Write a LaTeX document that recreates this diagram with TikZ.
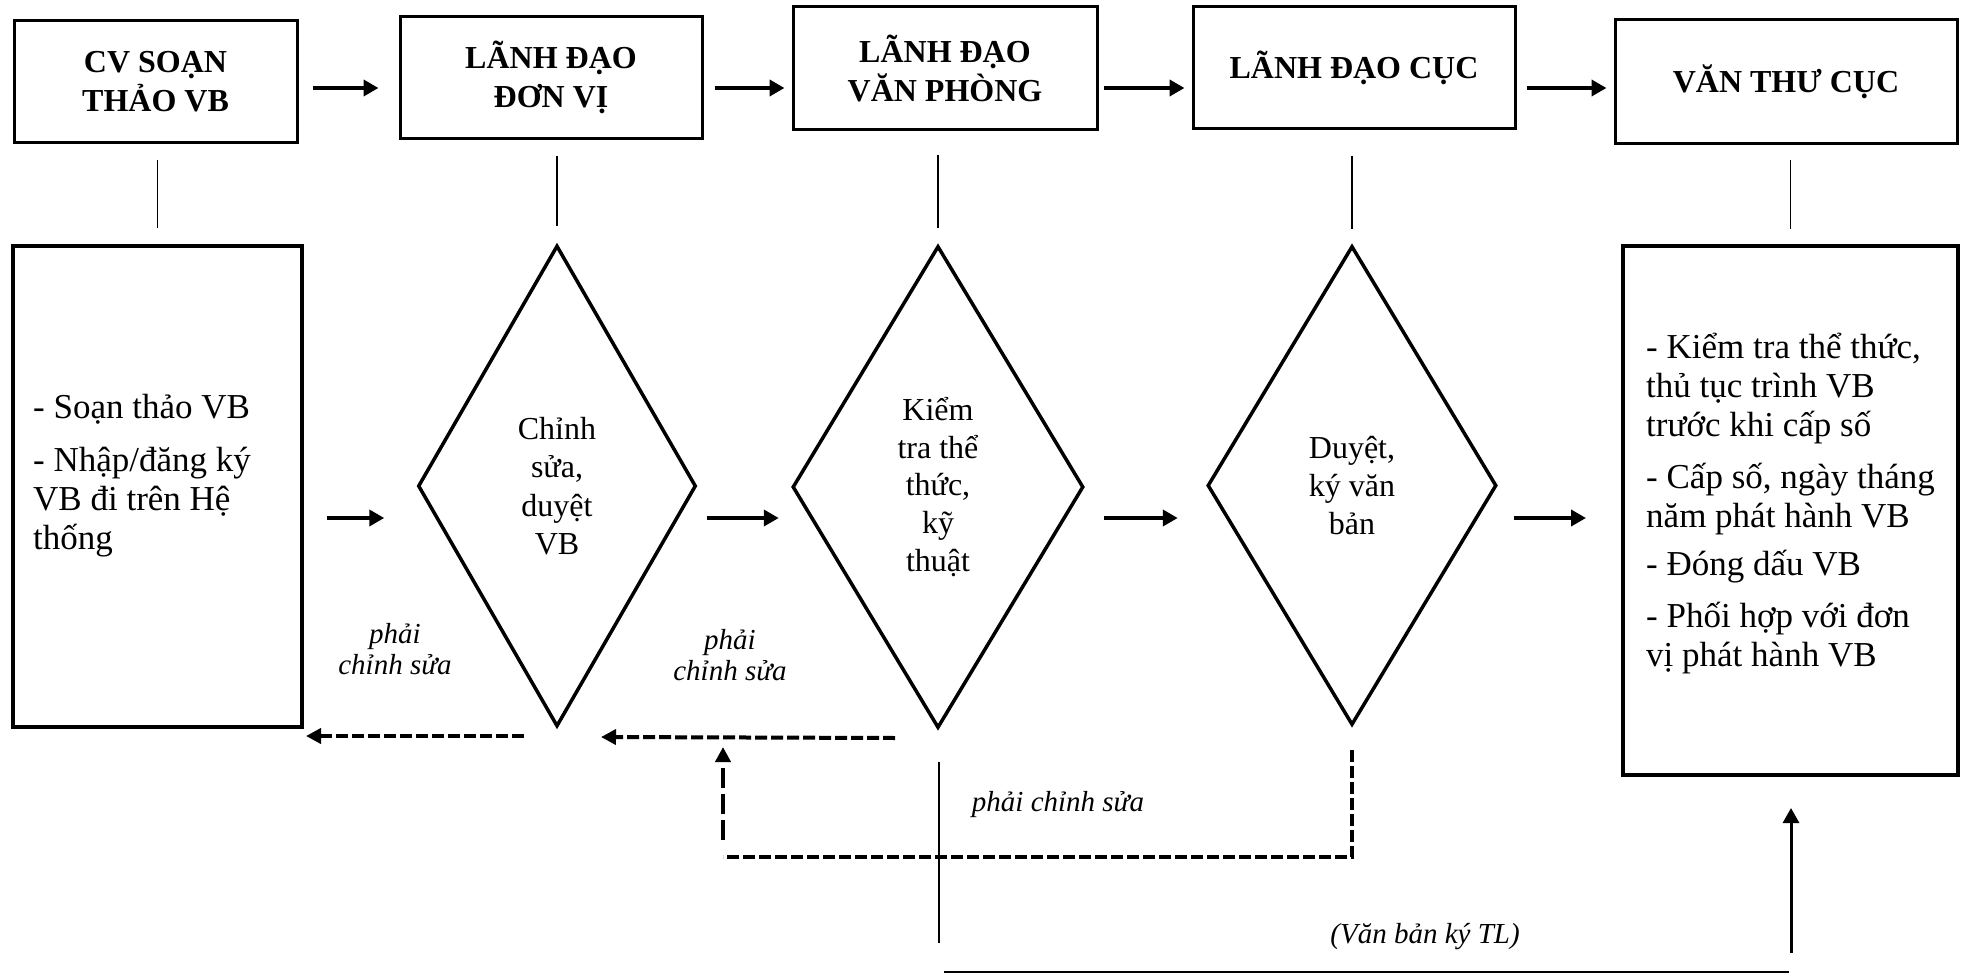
\documentclass[tikz,border=0pt]{standalone}
\usepackage{fontspec}
\setmainfont{Liberation Serif}
\usetikzlibrary{shapes.geometric,arrows.meta,positioning,calc}

\tikzset{
  headbox/.style={draw, line width=3pt, inner sep=0pt,
    font=\fontsize{32}{39}\selectfont\bfseries, align=center},
  stepbox/.style={draw, line width=4pt, inner sep=0pt},
  decision/.style={diamond, draw, line width=3.5pt, inner sep=0pt,
    font=\fontsize{32}{38.5}\selectfont, align=center},
  boxtext/.style={font=\fontsize{35}{39}\selectfont, align=left,
    anchor=west, inner sep=0pt},
  note/.style={font=\fontsize{29}{31}\selectfont\itshape, align=center},
  flow/.style={-{Triangle[length=15pt,width=16pt]}, line width=4pt},
  back/.style={-{Triangle[length=15pt,width=15pt]}, line width=4pt,
    dash pattern=on 12pt off 4pt},
  link/.style={line width=1.5pt},
}

\begin{document}
\begin{tikzpicture}[x=1pt,y=-1pt]
  \useasboundingbox (0,0) rectangle (1968,974);

  % roles
  \node[headbox, minimum width=283, minimum height=121] (T1) at (155.5,81.5) {CV SOẠN\\THẢO VB};
  \node[headbox, minimum width=302, minimum height=121] (T2) at (551,77.5) {LÃNH ĐẠO\\ĐƠN VỊ};
  \node[headbox, minimum width=304, minimum height=122] (T3) at (945,68) {LÃNH ĐẠO\\VĂN PHÒNG};
  \node[headbox, minimum width=322, minimum height=121] (T4) at (1354,67.5) {LÃNH ĐẠO CỤC};
  \node[headbox, minimum width=342, minimum height=123] (T5) at (1786,81.5) {VĂN THƯ CỤC};

  % steps
  \node[stepbox, minimum width=289, minimum height=481] (B1) at (157.5,486.5) {};
  \node[decision, minimum width=278, minimum height=481] (D1) at (557,486) {Chỉnh\\sửa,\\duyệt\\VB};
  \node[decision, minimum width=291, minimum height=482, font=\fontsize{32}{37.7}\selectfont] (D2) at (938,487) {Kiểm\\tra thể\\thức,\\kỹ\\thuật};
  \node[decision, minimum width=289, minimum height=479, font=\fontsize{32}{38}\selectfont] (D3) at (1352,485.5) {Duyệt,\\ký văn\\bản};
  \node[stepbox, minimum width=335, minimum height=529] (B5) at (1790.5,510.5) {};

  \node[boxtext] (B1t) at (33,476) {- Soạn thảo VB\\[14pt]- Nhập/đăng ký\\VB đi trên Hệ\\thống};
  \node[boxtext] (B5t) at (1646,504) {- Kiểm tra thể thức,\\thủ tục trình VB\\trước khi cấp số\\[13pt]- Cấp số, ngày tháng\\năm phát hành VB\\[9pt]- Đóng dấu VB\\[13pt]- Phối hợp với đơn\\vị phát hành VB};

  % labels
  \node[note] (n1) at (395,649) {phải\\chỉnh sửa};
  \node[note] (n2) at (730,655) {phải\\chỉnh sửa};
  \node[note] (n3) at (1058,805) {phải chỉnh sửa};
  \node[note] (n4) at (1425,937) {(Văn bản ký TL)};

  % top row
  \coordinate (hy) at (0,88);
  \draw[flow, shorten <=14pt, shorten >=20pt] (T1.east |- hy) -- (T2.west |- hy);
  \draw[flow, shorten <=11pt, shorten >=7pt] (T2.east |- hy) -- (T3.west |- hy);
  \draw[flow, shorten <=5pt, shorten >=7pt] (T3.east |- hy) -- (T4.west |- hy);
  \draw[flow, shorten <=10pt, shorten >=7pt] (T4.east |- hy) -- (T5.west |- hy);

  % role to step
  \draw[link, shorten <=16pt, shorten >=16pt] (B1.north |- T1.south) -- (B1.north);
  \draw[link, shorten <=16pt, shorten >=18pt] (D1.north |- T2.south) -- (D1.north);
  \draw[link, shorten <=24pt, shorten >=16pt] (D2.north |- T3.south) -- (D2.north);
  \draw[link, shorten <=26pt, shorten >=15pt] (D3.north |- T4.south) -- (D3.north);
  \draw[link, shorten <=15pt, shorten >=15pt] (B5.north |- T5.south) -- (B5.north);

  % main flow
  \coordinate (my) at (0,518);
  \draw[flow, shorten <=23pt, shorten >=32pt] (B1.east |- my) -- (D1.west |- my);
  \draw[flow, shorten <=9pt, shorten >=12pt] (D1.east |- my) -- (D2.west |- my);
  \draw[flow, shorten <=19pt, shorten >=28pt] (D2.east |- my) -- (D3.west |- my);
  \draw[flow, shorten <=16pt, shorten >=35pt] (D3.east |- my) -- (B5.west |- my);

  % send back
  \coordinate (r1a) at (524,736);
  \coordinate (r1b) at (306,736);
  \coordinate (r2a) at (895,738);
  \coordinate (r2b) at (601,737);
  \coordinate (r3a) at (1352,750);
  \coordinate (r3b) at (1352,857);
  \coordinate (r3c) at (723,857);
  \coordinate (r3e) at (723,840);
  \coordinate (r3d) at (723,747);
  \draw[back] (r1a) -- (r1b);
  \draw[back] (r2a) -- (r2b);
  \draw[back, -] (r3a) -- (r3b) -- (r3c);
  \draw[back, dash pattern=on 20pt off 6pt] (r3e) -- (r3d);

  % signed on behalf
  \coordinate (s1a) at (939,762);
  \coordinate (s1b) at (939,943);
  \coordinate (s2a) at (944,972);
  \coordinate (s2b) at (1789,972);
  \coordinate (s3a) at (1791,953);
  \coordinate (s3b) at (1791,808);
  \draw[line width=2.5pt] (s1a) -- (s1b);
  \draw[line width=2.5pt] (s2a) -- (s2b);
  \draw[flow, line width=3pt] (s3a) -- (s3b);
\end{tikzpicture}
\end{document}
